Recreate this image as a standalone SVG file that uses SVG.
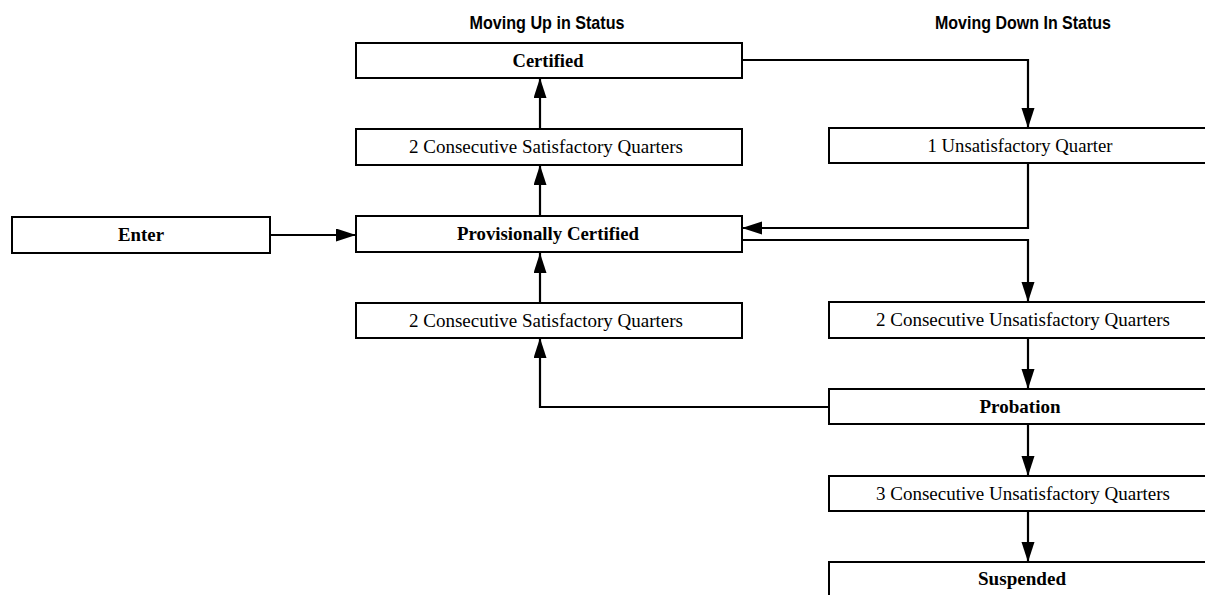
<svg xmlns="http://www.w3.org/2000/svg" width="1205" height="595" viewBox="0 0 1205 595">
<style>
.box{fill:#fff;stroke:#000;stroke-width:2}
.t{font-family:"Liberation Serif","Times New Roman",serif;font-size:19px;fill:#000;text-anchor:middle}
.b{font-weight:bold}
.h{font-family:"Liberation Sans Narrow","Liberation Sans",Arial,sans-serif;font-weight:bold;font-size:19px;fill:#000;text-anchor:middle}
.c{fill:none;stroke:#000;stroke-width:2.2}
</style>
<defs>
<marker id="ah" markerUnits="userSpaceOnUse" markerWidth="21" markerHeight="14" refX="20" refY="6.5" orient="auto">
<path d="M0,0 L20,6.5 L0,13 Z" fill="#000"/>
</marker>
</defs>
<rect width="1205" height="595" fill="#fff"/>
<text class="h" x="547" y="29" textLength="155" lengthAdjust="spacingAndGlyphs">Moving Up in Status</text>
<text class="h" x="1023" y="29" textLength="176" lengthAdjust="spacingAndGlyphs">Moving Down In Status</text>
<g id="connectors">
<path class="c" d="M270,235 H356" marker-end="url(#ah)"/>
<path class="c" d="M540,216 V165" marker-end="url(#ah)"/>
<path class="c" d="M540,129 V78" marker-end="url(#ah)"/>
<path class="c" d="M742,60 H1028 V128" marker-end="url(#ah)"/>
<path class="c" d="M1028,163 V228 H742" marker-end="url(#ah)"/>
<path class="c" d="M742,240 H1028 V302" marker-end="url(#ah)"/>
<path class="c" d="M1028,338 V389" marker-end="url(#ah)"/>
<path class="c" d="M829,407 H540 V338" marker-end="url(#ah)"/>
<path class="c" d="M540,303 V253" marker-end="url(#ah)"/>
<path class="c" d="M1028,424 V476" marker-end="url(#ah)"/>
<path class="c" d="M1028,511 V562" marker-end="url(#ah)"/>
</g>
<g id="certified"><rect class="box" x="356" y="43" width="386" height="35"/><text class="t b" x="548" y="67" textLength="71" lengthAdjust="spacingAndGlyphs">Certified</text></g>
<g id="sat2-upper"><rect class="box" x="356" y="129" width="386" height="36"/><text class="t" x="546" y="153" textLength="274" lengthAdjust="spacingAndGlyphs">2 Consecutive Satisfactory Quarters</text></g>
<g id="enter"><rect class="box" x="12" y="217" width="258" height="36"/><text class="t b" x="141" y="241" textLength="46" lengthAdjust="spacingAndGlyphs">Enter</text></g>
<g id="provisional"><rect class="box" x="356" y="216" width="386" height="36"/><text class="t b" x="548" y="240" textLength="182" lengthAdjust="spacingAndGlyphs">Provisionally Certified</text></g>
<g id="sat2-lower"><rect class="box" x="356" y="303" width="386" height="35"/><text class="t" x="546" y="327" textLength="274" lengthAdjust="spacingAndGlyphs">2 Consecutive Satisfactory Quarters</text></g>
<g id="unsat1"><rect class="box" x="829" y="128" width="390" height="35"/><text class="t" x="1020" y="152" textLength="185" lengthAdjust="spacingAndGlyphs">1 Unsatisfactory Quarter</text></g>
<g id="unsat2"><rect class="box" x="829" y="302" width="390" height="36"/><text class="t" x="1023" y="326" textLength="294" lengthAdjust="spacingAndGlyphs">2 Consecutive Unsatisfactory Quarters</text></g>
<g id="probation"><rect class="box" x="829" y="389" width="390" height="35"/><text class="t b" x="1020" y="413" textLength="81" lengthAdjust="spacingAndGlyphs">Probation</text></g>
<g id="unsat3"><rect class="box" x="829" y="476" width="390" height="35"/><text class="t" x="1023" y="500" textLength="294" lengthAdjust="spacingAndGlyphs">3 Consecutive Unsatisfactory Quarters</text></g>
<g id="suspended"><rect class="box" x="829" y="562" width="390" height="45"/><text class="t b" x="1022" y="585" textLength="88" lengthAdjust="spacingAndGlyphs">Suspended</text></g>
</svg>
